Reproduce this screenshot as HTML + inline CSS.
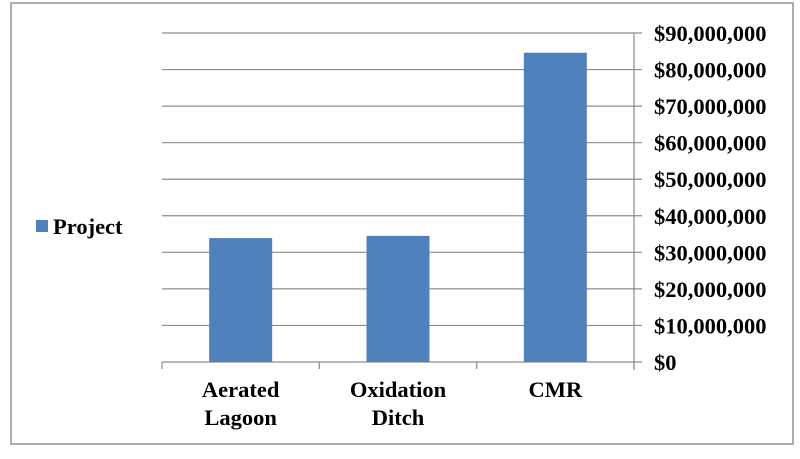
<!DOCTYPE html>
<html><head><meta charset="utf-8"><style>
body{margin:0;background:#fff;width:800px;height:454px;overflow:hidden}
svg text{font-family:"Liberation Serif",serif;font-weight:bold;fill:#000}
</style></head><body>
<svg width="800" height="454">
<rect x="11" y="3" width="782" height="441" fill="#fff" stroke="#a6a6a6" stroke-width="1.8"/>
<g id="grid"></g><g id="bars"></g><g id="axes"></g>
<rect x="36" y="220" width="12" height="12" fill="#4f81bd"/>
<text x="53" y="234" font-size="22.5">Project</text>
</svg>
<script>
const categories=[["Aerated","Lagoon"],["Oxidation","Ditch"],["CMR"]];
const values=[33.9e6,34.5e6,84.6e6];
const ticks=[0,10e6,20e6,30e6,40e6,50e6,60e6,70e6,80e6,90e6];
const tickLabels=["$0","$10,000,000","$20,000,000","$30,000,000","$40,000,000","$50,000,000","$60,000,000","$70,000,000","$80,000,000","$90,000,000"];
const NS="http://www.w3.org/2000/svg";
const L=162,R=634,T=33,B=362,maxV=90e6;
const y=v=>B-(v/maxV)*(B-T);
const step=(R-L)/categories.length;
const x=i=>L+step*i;
function mk(tag,attrs,parent){const e=document.createElementNS(NS,tag);for(const k in attrs)e.setAttribute(k,attrs[k]);document.getElementById(parent).appendChild(e);return e;}
ticks.forEach((t,i)=>{
 const g=mk('line',{x1:L,x2:R+8,y1:y(t),y2:y(t),stroke:'#8c8c8c','stroke-width':1.2},'grid');
 
 
 const tx=mk('text',{x:654,y:y(t)+8,'font-size':22.5},'axes');
 tx.textContent=tickLabels[i];
 
 
});
const ax=mk('line',{x1:R,x2:R,y1:T,y2:B+8,stroke:'#888','stroke-width':1.2},'axes');


for(let i=0;i<=categories.length;i++){
 const tk=mk('line',{x1:x(i),x2:x(i),y1:B,y2:B+7,stroke:'#888','stroke-width':1.2},'axes');
 
 
}
const bw=63;
values.forEach((v,i)=>{
 const cx=x(i)+step/2;
 const b=mk('rect',{x:cx-bw/2,y:y(v),width:bw,height:B-y(v),fill:'#4f81bd'},'bars');
 
 
 categories[i].forEach((ln,j)=>{
  const t=mk('text',{x:cx,y:397+j*28,'font-size':22.5,'text-anchor':'middle'},'axes');
  t.textContent=ln;
  
  
 });
});
</script>
</body></html>
